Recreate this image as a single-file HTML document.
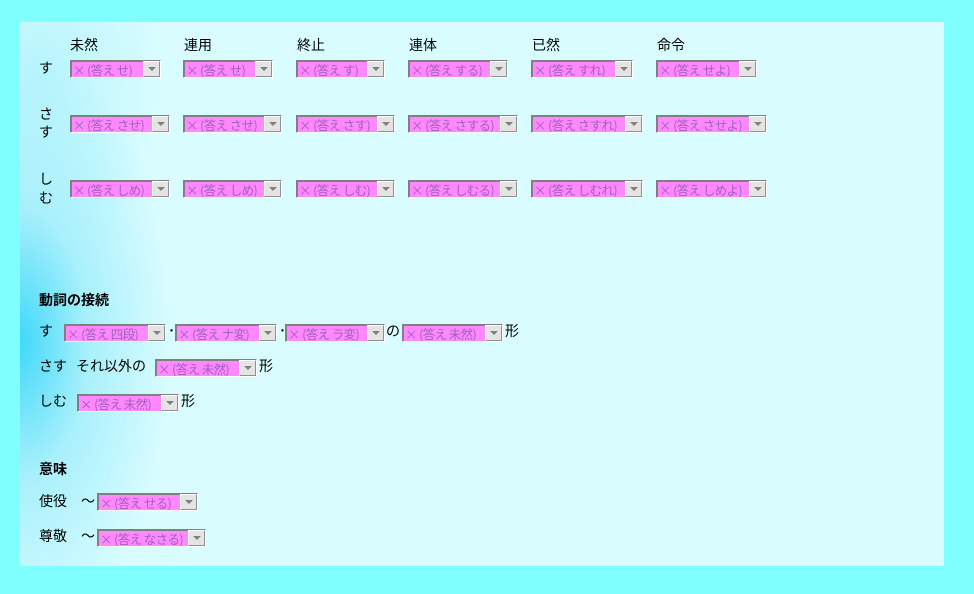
<!DOCTYPE html>
<html><head><meta charset="utf-8"><style>
body{margin:0;width:974px;height:594px;background:#80ffff;position:relative;overflow:hidden;font-family:"Liberation Sans","Noto Sans CJK JP",sans-serif;font-size:14px;color:#000}
#p{position:absolute;left:20px;top:22px;width:924px;height:544px;background:radial-gradient(ellipse 150px 300px at 0px 320px,#40d8f8 0%,#a8f0fc 45%,rgba(216,252,255,0) 100%),radial-gradient(ellipse 120px 200px at 20px 60px,#b8f4fc,rgba(216,252,255,0)),#d8fcff}
.t{position:absolute;white-space:nowrap;line-height:16px}
.s{position:absolute;height:18px;box-sizing:border-box;border-top:1px solid #808080;border-left:1px solid #808080;border-right:1px solid #fff;border-bottom:1px solid #fff}
.s i{position:absolute;left:0;top:0;right:17px;bottom:0;background:#ff88ff;border-top:1px solid #808080;border-left:1px solid #808080;font-style:normal;color:#a060c0;font-family:"Noto Sans CJK JP",sans-serif;font-size:12.5px;letter-spacing:-0.6px;line-height:15px;padding-left:1px;white-space:nowrap;overflow:hidden}
.s b{position:absolute;right:0;top:0;width:17px;bottom:0;background:#e4e4e4;border:1px solid #909090;box-sizing:border-box;border-left-color:#fff;border-top-color:#fff}
.s b:after{content:"";position:absolute;left:4px;top:5px;border-left:4px solid transparent;border-right:4px solid transparent;border-top:4px solid #808080}
.h{font-weight:bold}
</style></head><body>
<div id="p"></div>
<div class="t" style="left:70px;top:37px">未然</div>
<div class="t" style="left:184px;top:37px">連用</div>
<div class="t" style="left:297px;top:37px">終止</div>
<div class="t" style="left:409px;top:37px">連体</div>
<div class="t" style="left:532px;top:37px">已然</div>
<div class="t" style="left:657px;top:37px">命令</div>
<div class="t" style="left:39px;top:60px">す</div>
<div class="t" style="left:39px;top:106px">さ</div>
<div class="t" style="left:39px;top:124px">す</div>
<div class="t" style="left:39px;top:171px">し</div>
<div class="t" style="left:39px;top:190px">む</div>

<div class="s" style="left:70px;top:60px;width:91px"><i>× (答え せ)</i><b></b></div>
<div class="s" style="left:183px;top:60px;width:90px"><i>× (答え せ)</i><b></b></div>
<div class="s" style="left:296px;top:60px;width:89px"><i>× (答え す)</i><b></b></div>
<div class="s" style="left:408px;top:60px;width:100px"><i>× (答え する)</i><b></b></div>
<div class="s" style="left:531px;top:60px;width:102px"><i>× (答え すれ)</i><b></b></div>
<div class="s" style="left:656px;top:60px;width:101px"><i>× (答え せよ)</i><b></b></div>

<div class="s" style="left:70px;top:115px;width:100px"><i>× (答え させ)</i><b></b></div>
<div class="s" style="left:183px;top:115px;width:99px"><i>× (答え させ)</i><b></b></div>
<div class="s" style="left:296px;top:115px;width:99px"><i>× (答え さす)</i><b></b></div>
<div class="s" style="left:408px;top:115px;width:110px"><i>× (答え さする)</i><b></b></div>
<div class="s" style="left:531px;top:115px;width:112px"><i>× (答え さすれ)</i><b></b></div>
<div class="s" style="left:656px;top:115px;width:111px"><i>× (答え させよ)</i><b></b></div>

<div class="s" style="left:70px;top:180px;width:100px"><i>× (答え しめ)</i><b></b></div>
<div class="s" style="left:183px;top:180px;width:99px"><i>× (答え しめ)</i><b></b></div>
<div class="s" style="left:296px;top:180px;width:99px"><i>× (答え しむ)</i><b></b></div>
<div class="s" style="left:408px;top:180px;width:110px"><i>× (答え しむる)</i><b></b></div>
<div class="s" style="left:531px;top:180px;width:112px"><i>× (答え しむれ)</i><b></b></div>
<div class="s" style="left:656px;top:180px;width:111px"><i>× (答え しめよ)</i><b></b></div>

<div class="t h" style="left:39px;top:292px">動詞の接続</div>
<div class="t" style="left:39px;top:323px">す</div>
<div class="s" style="left:64px;top:324px;width:102px"><i>× (答え 四段)</i><b></b></div>
<div class="t" style="left:168px;top:323px">･</div>
<div class="s" style="left:175px;top:324px;width:102px"><i>× (答え ナ変)</i><b></b></div>
<div class="t" style="left:279px;top:323px">･</div>
<div class="s" style="left:285px;top:324px;width:100px"><i>× (答え ラ変)</i><b></b></div>
<div class="t" style="left:386px;top:323px">の</div>
<div class="s" style="left:402px;top:324px;width:101px"><i>× (答え 未然)</i><b></b></div>
<div class="t" style="left:505px;top:323px">形</div>

<div class="t" style="left:39px;top:358px">さす</div>
<div class="t" style="left:76px;top:358px">それ以外の</div>
<div class="s" style="left:155px;top:359px;width:102px"><i>× (答え 未然)</i><b></b></div>
<div class="t" style="left:259px;top:358px">形</div>

<div class="t" style="left:39px;top:393px">しむ</div>
<div class="s" style="left:77px;top:394px;width:102px"><i>× (答え 未然)</i><b></b></div>
<div class="t" style="left:181px;top:393px">形</div>

<div class="t h" style="left:39px;top:461px">意味</div>
<div class="t" style="left:39px;top:493px">使役</div>
<div class="t" style="left:81px;top:493px">〜</div>
<div class="s" style="left:97px;top:493px;width:101px"><i>× (答え せる)</i><b></b></div>
<div class="t" style="left:39px;top:528px">尊敬</div>
<div class="t" style="left:81px;top:528px">〜</div>
<div class="s" style="left:97px;top:529px;width:109px"><i>× (答え なさる)</i><b></b></div>
</body></html>
